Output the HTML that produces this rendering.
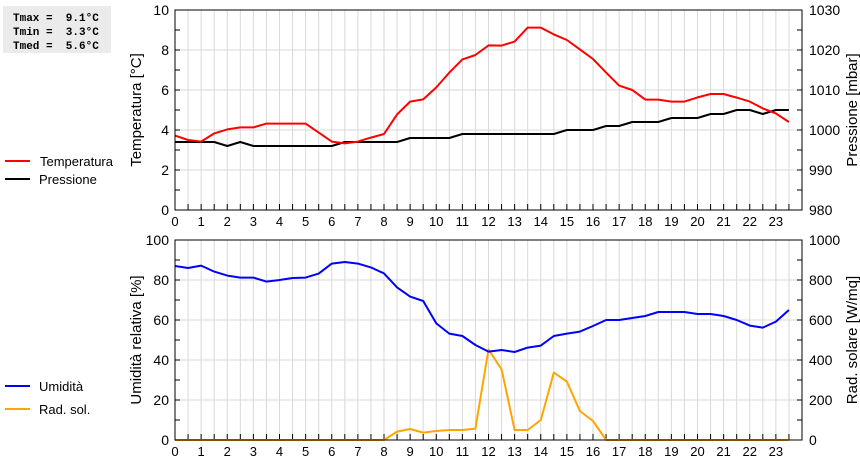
<!DOCTYPE html>
<html><head><meta charset="utf-8">
<style>
body{margin:0;background:#fff;width:860px;height:460px;overflow:hidden;font-family:"Liberation Sans",sans-serif;}
svg{display:block}
</style></head>
<body>
<svg id="c" width="860" height="460" xmlns="http://www.w3.org/2000/svg">
<rect x="3" y="6" width="108" height="47" fill="#ebebeb"/>
<g font-family="Liberation Mono, monospace" font-weight="bold" font-size="11" fill="#000">
<text x="13" y="21" xml:space="preserve">Tmax =  9.1°C</text>
<text x="13" y="35" xml:space="preserve">Tmin =  3.3°C</text>
<text x="13" y="49" xml:space="preserve">Tmed =  5.6°C</text>
</g>
<g font-size="13">
<line x1="5" y1="161" x2="30" y2="161" stroke="#f00" stroke-width="2"/>
<text x="40" y="166">Temperatura</text>
<line x1="5" y1="179" x2="30" y2="179" stroke="#000" stroke-width="2"/>
<text x="39" y="184">Pressione</text>
<line x1="5" y1="386" x2="30" y2="386" stroke="#00f" stroke-width="2"/>
<text x="39" y="391">Umidità</text>
<line x1="5" y1="409" x2="30" y2="409" stroke="#ffa500" stroke-width="2"/>
<text x="39" y="414">Rad. sol.</text>
</g>
</svg>
<script>
const hours=[0,0.5,1,1.5,2,2.5,3,3.5,4,4.5,5,5.5,6,6.5,7,7.5,8,8.5,9,9.5,10,10.5,11,11.5,12,12.5,13,13.5,14,14.5,15,15.5,16,16.5,17,17.5,18,18.5,19,19.5,20,20.5,21,21.5,22,22.5,23,23.5];
const temperatura=[3.72,3.5,3.42,3.83,4.03,4.13,4.13,4.32,4.32,4.32,4.32,3.87,3.42,3.33,3.42,3.62,3.8,4.78,5.42,5.53,6.13,6.87,7.53,7.75,8.23,8.22,8.42,9.12,9.12,8.78,8.5,8.03,7.55,6.87,6.22,6.0,5.52,5.52,5.42,5.42,5.63,5.8,5.8,5.62,5.42,5.08,4.83,4.4];
const pressione=[997,997,997,997,996,997,996,996,996,996,996,996,996,997,997,997,997,997,998,998,998,998,999,999,999,999,999,999,999,999,1000,1000,1000,1001,1001,1002,1002,1002,1003,1003,1003,1004,1004,1005,1005,1004,1005,1005];
const umidita=[87,86,87.2,84.2,82.2,81.2,81.2,79.2,80,81,81.2,83.2,88.2,89,88.2,86.3,83.3,76.3,71.7,69.5,58.3,53.2,52,47.5,44.2,45,44,46.2,47.2,52,53.2,54.2,57,60,60,61,62,64,64,64,63,63,62,60,57.2,56.2,59.2,65];
const radiazione=[0,0,0,0,0,0,0,0,0,0,0,0,0,0,0,0,0,42,55,37,45,50,50,57,453,353,50,50,100,337,292,145,95,0,0,0,0,0,0,0,0,0,0,0,0,0,0,0];
const tempTicks=[0,2,4,6,8,10];
const presTicks=[980,990,1000,1010,1020,1030];
const humTicks=[0,20,40,60,80,100];
const radTicks=[0,200,400,600,800,1000];
const xTicks=[0,1,2,3,4,5,6,7,8,9,10,11,12,13,14,15,16,17,18,19,20,21,22,23];

const NS="http://www.w3.org/2000/svg";
const svg=document.getElementById('c');
const X0=175,X1=802;
const xs=h=>X0+h*(X1-X0)/24;
function el(tag,attrs,parent){const e=document.createElementNS(NS,tag);for(const k in attrs)e.setAttribute(k,attrs[k]);(parent||svg).appendChild(e);return e;}

function panel(name,top,bot,lmin,lmax,rmin,rmax,lTicks,rTicks,lTitle,rTitle,series){
  const g=el('g',{});
  
  
  const yl=v=>bot-(v-lmin)/(lmax-lmin)*(bot-top);
  const yr=v=>bot-(v-rmin)/(rmax-rmin)*(bot-top);
  // vertical grid every half hour
  for(let h=0.5;h<24;h+=0.5){
    const l=el('line',{x1:xs(h),x2:xs(h),y1:top,y2:bot,stroke:'#d9d9d9','stroke-width':1},g);
    
    
  }
  // horizontal grid at major ticks, minor ticks
  const step=(lTicks[1]-lTicks[0])/2;
  for(let v=lmin;v<=lmax+1e-9;v+=step){
    const y=yl(v);
    const major=Math.abs(((v-lmin)/(step*2))%1)<1e-6;
    if(major&&v>lmin&&v<lmax){const l=el('line',{x1:X0,x2:X1,y1:y,y2:y,stroke:'#d9d9d9','stroke-width':1},g);
      
      }
    el('line',{x1:X0,x2:X0+5,y1:y,y2:y,stroke:'#000'},g);
    el('line',{x1:X1-5,x2:X1,y1:y,y2:y,stroke:'#000'},g);
  }
  for(let h=0.5;h<24;h+=0.5){el('line',{x1:xs(h),x2:xs(h),y1:bot-6,y2:bot,stroke:'#000'},g);}
  lTicks.forEach(v=>{const t=el('text',{x:169,y:yl(v)+5,'text-anchor':'end','font-size':14},g);t.textContent=v;
    });
  rTicks.forEach(v=>{const t=el('text',{x:809,y:yr(v)+5,'font-size':14},g);t.textContent=v;
    });
  xTicks.forEach(v=>{const t=el('text',{x:xs(v),y:bot+16,'text-anchor':'middle','font-size':13},g);t.textContent=v;
    });
  const cy=(top+bot)/2;
  const lt=el('text',{x:0,y:0,'text-anchor':'middle','font-size':15,transform:`translate(141,${cy}) rotate(-90)`},g);lt.textContent=lTitle;
  
  const rt=el('text',{x:0,y:0,'text-anchor':'middle','font-size':15,transform:`translate(857,${cy}) rotate(-90)`},g);rt.textContent=rTitle;
  
  series.forEach(s=>{
    const sc=s.axis==='l'?yl:yr;
    const pts=hours.map((h,i)=>xs(h).toFixed(1)+','+sc(s.data[i]).toFixed(1)).join(' ');
    const p=el('polyline',{points:pts,fill:'none',stroke:s.color,'stroke-width':2,'stroke-linejoin':'round'},g);
    
    
  });
  const f=el('rect',{x:X0,y:top,width:X1-X0,height:bot-top,fill:'none',stroke:'#000','stroke-width':1},g);
  
  
}
panel('top-chart',10,210,0,10,980,1030,tempTicks,presTicks,'Temperatura [°C]','Pressione [mbar]',
  [{data:pressione,axis:'r',color:'#000',name:'pressione-line'},{data:temperatura,axis:'l',color:'#f00',name:'temperatura-line'}]);
panel('bottom-chart',240,440,0,100,0,1000,humTicks,radTicks,'Umidità relativa [%]','Rad. solare [W/mq]',
  [{data:radiazione,axis:'r',color:'#ffa500',name:'radiazione-line'},{data:umidita,axis:'l',color:'#00f',name:'umidita-line'}]);
</script>
</body></html>
